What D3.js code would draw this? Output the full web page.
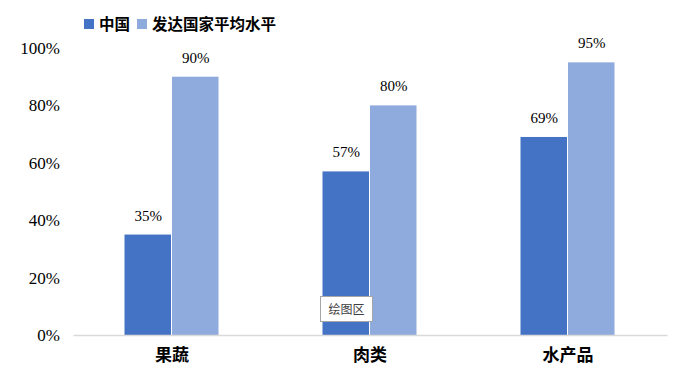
<!DOCTYPE html>
<html><head><meta charset="utf-8">
<script src="https://cdn.jsdelivr.net/npm/d3@7"></script>
<style>body{margin:0;background:#fff;}svg{display:block;}</style>
</head><body>
<script>
const categories = ["果蔬", "肉类", "水产品"];
const seriesNames = ["中国", "发达国家平均水平"];
const chinaValues = [35, 57, 69];
const developedValues = [90, 80, 95];
const yTicks = [0, 20, 40, 60, 80, 100];
const colors = ["#4472C4", "#8FAADC"];

const W = 683, H = 379;
const svg = d3.select("body").append("svg").attr("width", W).attr("height", H);
const plot = {left: 73, right: 667, top: 48, bottom: 335};

const x = d3.scaleBand().domain(categories).range([plot.left, plot.right]).paddingInner(0).paddingOuter(0);
const y = d3.scaleLinear().domain([0, 100]).range([plot.bottom, plot.top]);
const groupW = 95;
const xs = d3.scaleBand().domain(seriesNames).range([0, groupW]);

const serif = "'Times New Roman','Liberation Serif',serif";
const cjk = "'Noto Sans CJK SC',sans-serif";

// y axis labels
const yAxis = d3.axisLeft(y).tickValues(yTicks).tickFormat(d => d + "%").tickSize(0).tickPadding(13);
const ya = svg.append("g").attr("transform", `translate(${plot.left},0)`).call(yAxis);
ya.select(".domain").remove();
ya.selectAll("text").attr("font-family", serif).attr("font-size", 17).attr("fill", "#000");

// bars
const data = [chinaValues, developedValues];
data.forEach((vals, si) => {
  svg.append("g").selectAll("rect").data(vals).join("rect")
    .attr("x", (d, i) => x(categories[i]) + (x.bandwidth() - groupW) / 2 + xs(seriesNames[si]))
    .attr("y", d => y(d))
    .attr("width", xs.bandwidth() - 1)
    .attr("height", d => plot.bottom - y(d))
    .attr("fill", colors[si]);
  svg.append("g").selectAll("text").data(vals).join("text")
    .attr("x", (d, i) => x(categories[i]) + (x.bandwidth() - groupW) / 2 + xs(seriesNames[si]) + xs.bandwidth() / 2)
    .attr("y", d => y(d) - 14)
    .attr("text-anchor", "middle")
    .attr("font-family", serif).attr("font-size", 15).attr("fill", "#000")
    .text(d => d + "%");
});

// x axis line
const xAxis = d3.axisBottom(x).tickSize(0).tickPadding(14);
const xa = svg.append("g").attr("transform", `translate(0,${plot.bottom})`).call(xAxis);
xa.select(".domain").attr("stroke", "#D9D9D9").attr("stroke-width", 1.5);
xa.selectAll("text").attr("font-family", cjk).attr("font-size", 17).attr("font-weight", "bold").attr("fill", "#000");

// legend
const legend = svg.append("g");
const legItems = [{name: seriesNames[0], x: 84}, {name: seriesNames[1], x: 137}];
legItems.forEach((it, i) => {
  legend.append("rect").attr("x", it.x).attr("y", 19).attr("width", 10).attr("height", 10).attr("fill", colors[i]);
  legend.append("text").attr("x", it.x + 15).attr("y", 30)
    .attr("font-family", cjk).attr("font-size", 15.5).attr("font-weight", "bold").attr("fill", "#000")
    .text(it.name);
});

// tooltip
const tip = svg.append("g");
tip.append("rect").attr("x", 320.5).attr("y", 296.5).attr("width", 52).attr("height", 25)
  .attr("fill", "#fff").attr("stroke", "#A6A6A6").attr("stroke-width", 1);
tip.append("text").attr("x", 346.5).attr("y", 314).attr("text-anchor", "middle")
  .attr("font-family", cjk).attr("font-size", 12).attr("fill", "#404040").text("绘图区");
</script>
</body></html>
